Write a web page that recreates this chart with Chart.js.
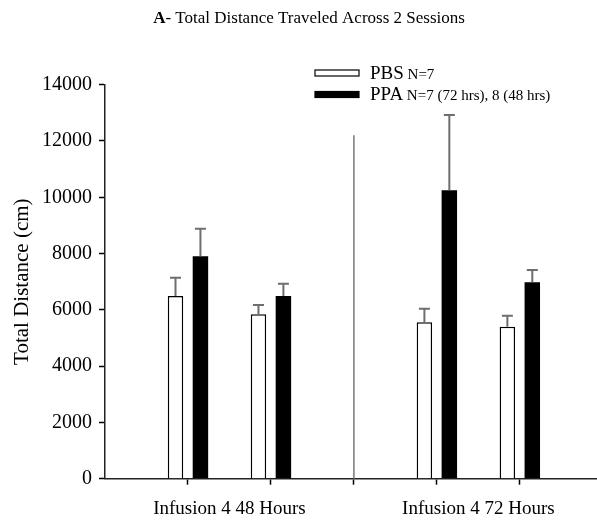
<!DOCTYPE html>
<html>
<head>
<meta charset="utf-8">
<script src="https://cdn.jsdelivr.net/npm/chart.js@4.4.0/dist/chart.umd.min.js"></script>
<style>
  html, body { margin: 0; padding: 0; background: #fff; }
  canvas { display: block; }
</style>
</head>
<body>
<canvas id="chart" width="597" height="523"></canvas>
<script>
// Group labels shown under the axis, and where they sit on the x scale
const groupLabels = ['Infusion 4 48 Hours', 'Infusion 4 72 Hours'];
const groupCenters = [1.5, 4.5];
// Session slots on the x scale (two sessions per infusion group)
const sessionPositions = [1, 2, 4, 5];
const tickPositions = [1, 2, 3, 4, 5];

// Mean total distance (cm) and SEM per session
const pbsMeans = [6490, 5840, 5560, 5400];
const pbsSem   = [650, 330, 480, 390];
const ppaMeans = [7900, 6490, 10250, 6980];
const ppaSem   = [980, 440, 2670, 440];

const yTicks = [0, 2000, 4000, 6000, 8000, 10000, 12000, 14000];

// Separator between the two infusion groups
const dividerAt = 3;
const dividerTop = 12200;

const SERIF = "'Liberation Serif', 'Times New Roman', serif";

const toPoints = means => means.map((v, i) => ({ x: sessionPositions[i], y: v }));

const errorBars = {
  id: 'errorBars',
  afterDatasetsDraw(chart) {
    const { ctx } = chart;
    const y = chart.scales.y;
    ctx.save();
    ctx.strokeStyle = '#6e6e6e';
    ctx.lineWidth = 2;
    chart.data.datasets.forEach((ds, di) => {
      const meta = chart.getDatasetMeta(di);
      meta.data.forEach((bar, i) => {
        const top = y.getPixelForValue(ds.data[i].y + ds.sem[i]);
        ctx.beginPath();
        ctx.moveTo(bar.x, bar.y);
        ctx.lineTo(bar.x, top);
        ctx.moveTo(bar.x - 5.5, top);
        ctx.lineTo(bar.x + 5.5, top);
        ctx.stroke();
      });
    });
    ctx.restore();
  }
};

const divider = {
  id: 'divider',
  beforeDatasetsDraw(chart) {
    const { ctx } = chart;
    const x = chart.scales.x.getPixelForValue(dividerAt);
    const y0 = chart.scales.y.getPixelForValue(0);
    const y1 = chart.scales.y.getPixelForValue(dividerTop);
    ctx.save();
    ctx.strokeStyle = '#777';
    ctx.lineWidth = 1.5;
    ctx.beginPath();
    ctx.moveTo(x, y0);
    ctx.lineTo(x, y1);
    ctx.stroke();
    ctx.restore();
  }
};

const headerAndKey = {
  id: 'headerAndKey',
  afterDraw(chart) {
    const { ctx } = chart;
    ctx.save();
    ctx.fillStyle = '#000';
    ctx.textBaseline = 'alphabetic';

    // Title: bold panel letter followed by the plain heading
    const boldFont = `bold 17px ${SERIF}`;
    const plainFont = `17px ${SERIF}`;
    const head = 'A';
    const rest = '- Total Distance Traveled Across 2 Sessions';
    ctx.font = boldFont;
    const wHead = ctx.measureText(head).width;
    ctx.font = plainFont;
    const wRest = ctx.measureText(rest).width;
    let tx = 309 - (wHead + wRest) / 2;
    ctx.font = boldFont;
    ctx.fillText(head, tx, 23);
    ctx.font = plainFont;
    ctx.fillText(rest, tx + wHead, 23);

    // Key
    const rows = [
      { big: 'PBS', small: 'N=7', boxY: 70, base: 79 },
      { big: 'PPA', small: 'N=7 (72 hrs), 8 (48 hrs)', boxY: 91.5, base: 100 }
    ];
    rows.forEach((r, i) => {
      const ds = chart.data.datasets[i];
      ctx.fillStyle = ds.backgroundColor;
      ctx.fillRect(315, r.boxY, 44, 6);
      ctx.strokeStyle = '#000';
      ctx.lineWidth = 1.2;
      ctx.strokeRect(315, r.boxY, 44, 6);
      ctx.fillStyle = '#000';
      ctx.font = `19px ${SERIF}`;
      ctx.fillText(r.big, 370, r.base);
      const wb = ctx.measureText(r.big + ' ').width;
      ctx.font = `15px ${SERIF}`;
      ctx.fillText(r.small, 370 + wb - 1, r.base);
    });
    ctx.restore();
  }
};

new Chart(document.getElementById('chart'), {
  type: 'bar',
  data: {
    datasets: [
      {
        label: 'PBS',
        data: toPoints(pbsMeans),
        sem: pbsSem,
        backgroundColor: '#ffffff',
        borderColor: '#000000',
        borderWidth: 1.5,
        xAxisID: 'x'
      },
      {
        label: 'PPA',
        data: toPoints(ppaMeans),
        sem: ppaSem,
        backgroundColor: '#000000',
        borderColor: '#000000',
        borderWidth: 0,
        xAxisID: 'x'
      }
    ]
  },
  options: {
    responsive: false,
    animation: false,
    devicePixelRatio: 1,
    categoryPercentage: 0.601,
    barPercentage: 0.62,
    layout: { padding: { top: 84.7, right: 0, bottom: 0, left: 0 } },
    plugins: {
      legend: { display: false },
      tooltip: { enabled: false },
      title: { display: false }
    },
    scales: {
      x: {
        type: 'linear',
        position: 'bottom',
        min: 0,
        max: 5.93,
        offset: false,
        afterBuildTicks: s => { s.ticks = tickPositions.map(v => ({ value: v })); },
        ticks: { display: false },
        grid: { offset: false, drawOnChartArea: false, drawTicks: true, tickLength: 6, color: '#000', tickWidth: 1.5 },
        border: { color: '#222', width: 1.5 },
        afterFit: s => { s.height = 6; }
      },
      xl: {
        type: 'linear',
        position: 'bottom',
        min: 0,
        max: 5.93,
        offset: false,
        afterBuildTicks: s => { s.ticks = groupCenters.map(v => ({ value: v })); },
        ticks: {
          color: '#000',
          font: { family: SERIF, size: 19 },
          padding: 13,
          autoSkip: false,
          maxRotation: 0,
          callback: (v, i) => groupLabels[i]
        },
        grid: { display: false, drawTicks: false },
        border: { display: false },
        afterFit: s => { s.height = 38.3; }
      },
      y: {
        min: 0,
        max: 14000,
        afterBuildTicks: s => { s.ticks = yTicks.map(v => ({ value: v })); },
        ticks: {
          color: '#000',
          font: { family: SERIF, size: 20 },
          padding: 7,
          callback: v => String(v)
        },
        grid: { drawOnChartArea: false, drawTicks: true, tickLength: 6, color: '#000', tickWidth: 1.5 },
        border: { color: '#222', width: 1.5 },
        title: {
          display: true,
          text: 'Total Distance (cm)',
          color: '#000',
          font: { family: SERIF, size: 21 },
          padding: { top: 10, bottom: 0 }
        },
        afterFit: s => { s.width = 105; }
      }
    }
  },
  plugins: [divider, errorBars, headerAndKey]
});
</script>
</body>
</html>
